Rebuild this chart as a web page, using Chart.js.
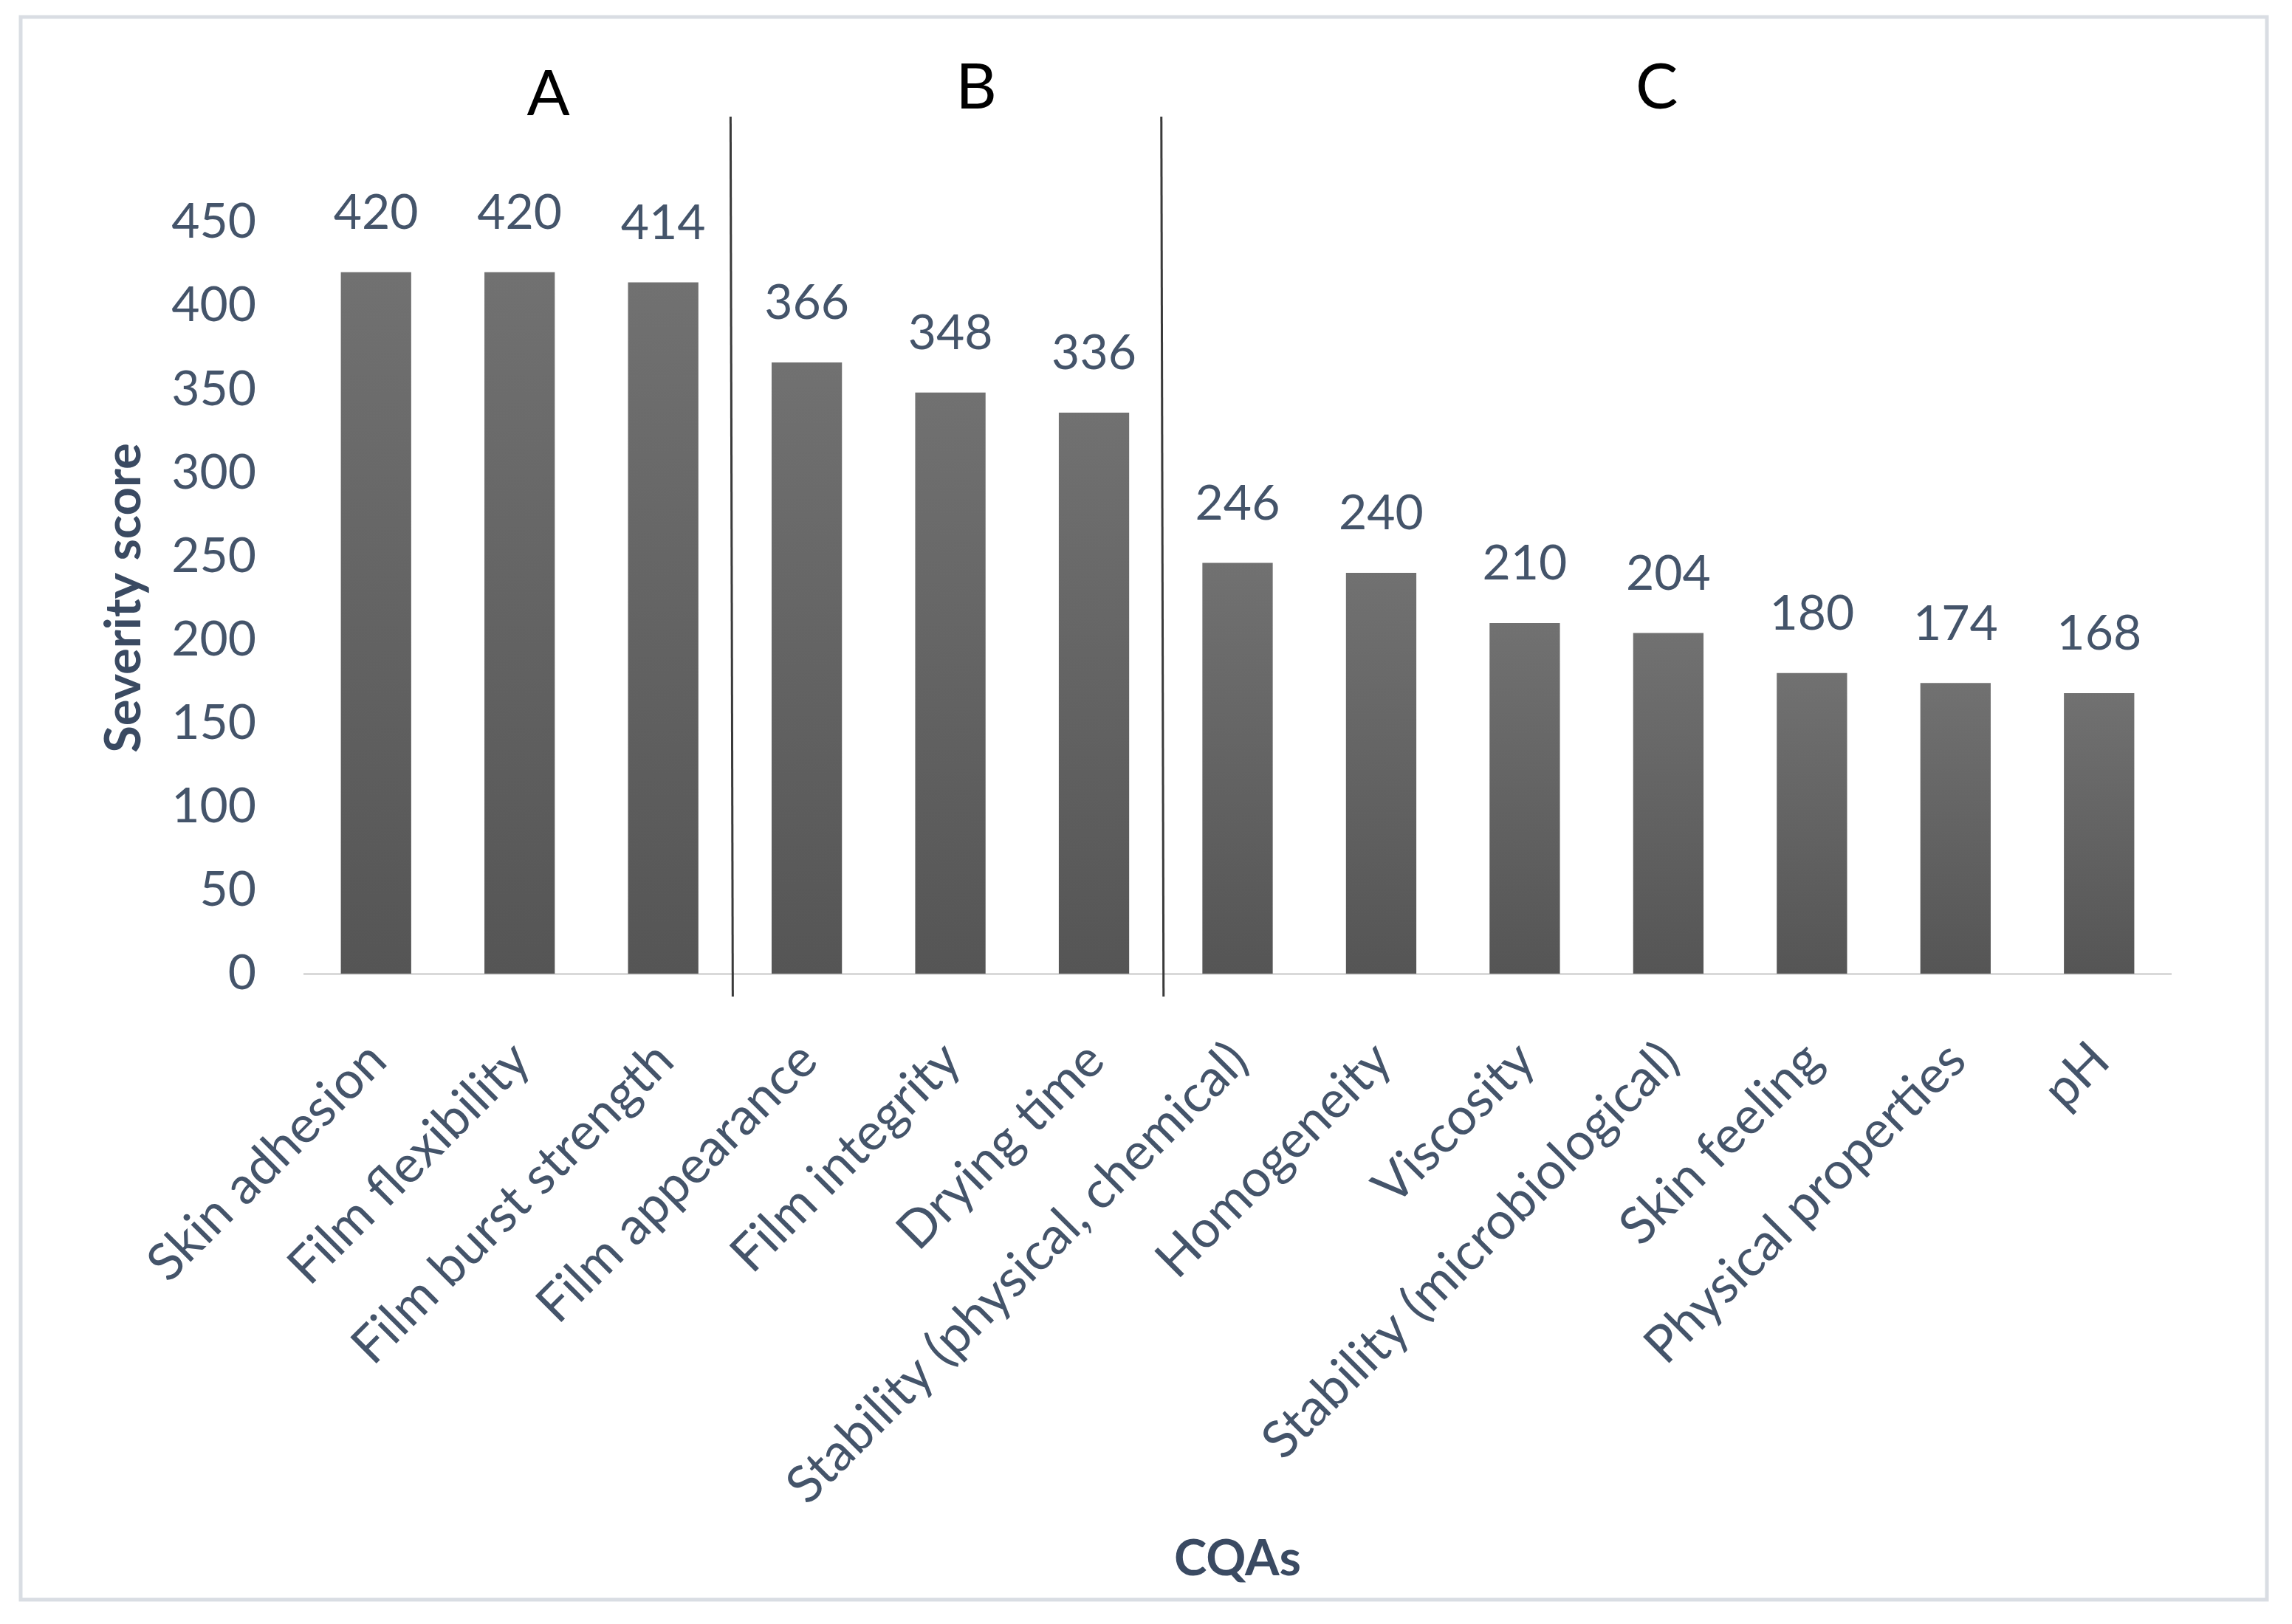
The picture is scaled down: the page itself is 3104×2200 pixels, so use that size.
<!DOCTYPE html>
<html>
<head>
<meta charset="utf-8">
<title>Severity score of CQAs</title>
<script src="https://cdn.jsdelivr.net/npm/chart.js@4.4.1/dist/chart.umd.min.js"></script>
<style>
  html, body { margin: 0; padding: 0; background: #ffffff; }
  #wrap { width: 3104px; height: 2200px; }
</style>
</head>
<body>
<div id="wrap"><canvas id="cqaChart" width="3104" height="2200"></canvas></div>
<script>
// data
const categories = [
  "Skin adhesion",
  "Film flexibility",
  "Film burst strength",
  "Film appearance",
  "Film integrity",
  "Drying time",
  "Stability (physical, chemical)",
  "Homogeneity",
  "Viscosity",
  "Stability (microbiological)",
  "Skin feeling",
  "Physical properties",
  "pH",
];
const severityScores = [420, 420, 414, 366, 348, 336, 246, 240, 210, 204, 180, 174, 168];
const yTicks = [0, 50, 100, 150, 200, 250, 300, 350, 400, 450];
const groupNames = ["A", "B", "C"];
const groupFirst = [0, 3, 6];
const groupLast = [2, 5, 12];

const TEXT_COLOR = "#44546A";
const TITLE_COLOR = "#3A4A62";
const FONT = "Lato, 'Open Sans', sans-serif";

// bars get a light-to-dark vertical gradient, one per bar
function barGradient(context) {
  const chart = context.chart;
  if (!chart.chartArea) return "#606060";
  const y = chart.scales.y;
  const value = context.raw || 0;
  const top = y.getPixelForValue(value);
  const bottom = y.getPixelForValue(0);
  const g = chart.ctx.createLinearGradient(0, top, 0, bottom);
  g.addColorStop(0, "#717171");
  g.addColorStop(1, "#555555");
  return g;
}

// frame, value labels, group separators and group letters
const decorations = {
  id: "decorations",
  beforeDraw(chart) {
    const ctx = chart.ctx;
    ctx.save();
    ctx.fillStyle = "#ffffff";
    ctx.fillRect(0, 0, chart.width, chart.height);
    ctx.strokeStyle = "#D9DDE3";
    ctx.lineWidth = 5;
    ctx.strokeRect(28, 23, 3042, 2144);
    ctx.restore();
  },
  afterDatasetsDraw(chart) {
    const ctx = chart.ctx;
    const x = chart.scales.x;
    const meta = chart.getDatasetMeta(0);

    ctx.save();
    ctx.font = "66px " + FONT;
    ctx.fillStyle = TEXT_COLOR;
    ctx.textAlign = "center";
    ctx.textBaseline = "middle";
    meta.data.forEach((bar, i) => {
      ctx.fillText(String(severityScores[i]), bar.x, bar.y - 80);
    });

    // vertical lines between the groups
    ctx.strokeStyle = "#3a3a3a";
    ctx.lineWidth = 3;
    for (let g = 0; g < groupLast.length - 1; g++) {
      const px = x.getPixelForValue((groupLast[g] + groupFirst[g + 1]) / 2) - 6;
      ctx.beginPath();
      ctx.moveTo(px, 158);
      ctx.lineTo(px + 3, 1350);
      ctx.stroke();
    }

    // group letters
    const nudge = [0.2, 0.18, -0.08];
    const letterY = [128, 119, 119];
    ctx.font = "86px " + FONT;
    ctx.fillStyle = "#000000";
    groupNames.forEach((name, g) => {
      const mid = (groupFirst[g] + groupLast[g]) / 2 + nudge[g];
      ctx.fillText(name, x.getPixelForValue(mid), letterY[g]);
    });
    ctx.restore();
  },
};

const chart = new Chart(document.getElementById("cqaChart"), {
  type: "bar",
  data: {
    labels: categories,
    datasets: [
      {
        label: "Severity score",
        data: severityScores,
        backgroundColor: barGradient,
        borderWidth: 0,
        categoryPercentage: 1,
        barPercentage: 0.49,
      },
    ],
  },
  options: {
    responsive: false,
    devicePixelRatio: 1,
    animation: false,
    layout: {
      padding: { top: 301, right: 164, left: 0, bottom: 0 },
    },
    plugins: {
      legend: { display: false },
      tooltip: { enabled: false },
    },
    scales: {
      x: {
        grid: { display: false, drawTicks: false, tickLength: 0 },
        border: { display: true, color: "#D9D9D9", width: 3 },
        ticks: {
          autoSkip: false,
          minRotation: 45,
          maxRotation: 45,
          padding: 76,
          labelOffset: 2,
          color: TEXT_COLOR,
          font: { family: FONT, size: 70 },
        },
        title: {
          display: true,
          text: "CQAs",
          color: TITLE_COLOR,
          font: { family: FONT, size: 67, weight: "bold" },
          padding: { top: 0, bottom: 47 },
        },
        afterFit(scale) {
          scale.height = 881;
        },
      },
      y: {
        min: 0,
        max: 450,
        grid: { display: false, drawTicks: false, tickLength: 0 },
        border: { display: false },
        afterBuildTicks(scale) {
          scale.ticks = yTicks.map((v) => ({ value: v }));
        },
        ticks: {
          padding: 65,
          color: TEXT_COLOR,
          font: { family: FONT, size: 66 },
        },
        title: {
          display: true,
          text: "Severity score",
          color: TITLE_COLOR,
          font: { family: FONT, size: 67, weight: "bold" },
          padding: { top: 128, bottom: 0 },
        },
        afterFit(scale) {
          scale.width = 412;
        },
      },
    },
  },
  plugins: [decorations],
});
</script>
</body>
</html>
